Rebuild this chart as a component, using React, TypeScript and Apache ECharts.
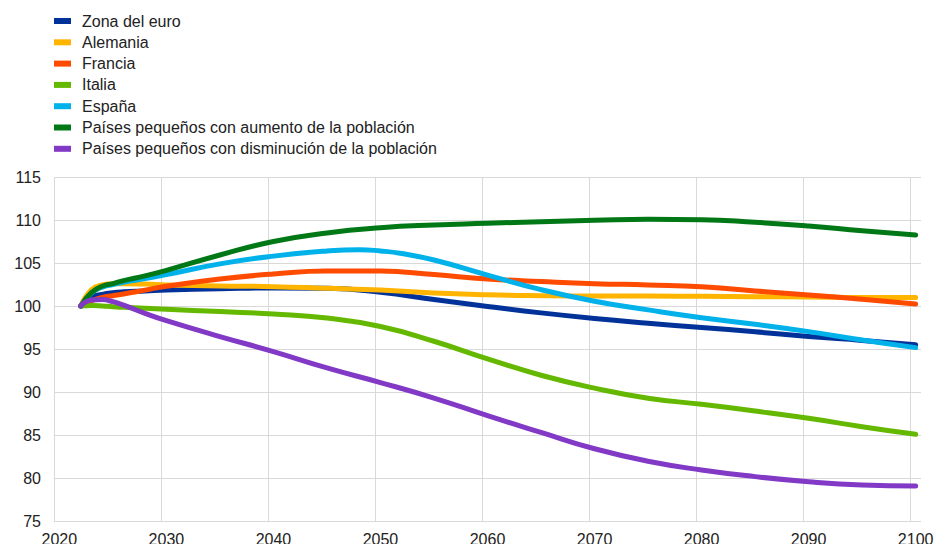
import React, { useEffect, useRef } from "react";
import * as echarts from "echarts";

// Axis domain (category axis: one band per year)
const firstYear = 2020;
const lastYear = 2100;
const yTicks = { min: 75, max: 115, step: 5 };

const sampleYears = [2022, 2023, 2024, 2025, 2026, 2028, 2030, 2035, 2040, 2045, 2050, 2055, 2060, 2065, 2070, 2075, 2080, 2085, 2090, 2095, 2100];
const espanaYears = [2022, 2023, 2024, 2025, 2026, 2028, 2030, 2035, 2040, 2045, 2048, 2050, 2052, 2055, 2060, 2065, 2070, 2075, 2080, 2085, 2090, 2095, 2100];

const zonaEuro = [100, 101.0, 101.35, 101.55, 101.65, 101.75, 101.86, 102.0, 102.1, 102.05, 101.6, 100.75, 99.95, 99.2, 98.55, 98.0, 97.5, 97.0, 96.45, 96.0, 95.5];
const alemania = [100, 101.9, 102.45, 102.6, 102.6, 102.55, 102.45, 102.33, 102.25, 102.05, 101.85, 101.5, 101.3, 101.2, 101.16, 101.16, 101.12, 101.09, 101.05, 101.0, 101.0];
const francia = [100, 100.6, 101.0, 101.2, 101.4, 101.85, 102.3, 103.14, 103.72, 104.07, 104.07, 103.65, 103.15, 102.85, 102.6, 102.45, 102.25, 101.75, 101.28, 100.78, 100.23];
const italia = [100, 100.05, 100.0, 99.92, 99.85, 99.75, 99.62, 99.35, 99.07, 98.6, 97.62, 95.9, 93.85, 91.95, 90.45, 89.28, 88.57, 87.79, 86.94, 85.97, 85.08];
const espana = [100, 101.5, 102.2, 102.5, 102.75, 103.2, 103.65, 104.9, 105.8, 106.4, 106.55, 106.4, 106.1, 105.35, 103.6, 101.9, 100.55, 99.55, 98.64, 97.87, 97.02, 96.05, 95.16];
const pequenosAumento = [100, 101.55, 102.3, 102.6, 102.95, 103.5, 104.15, 105.93, 107.5, 108.5, 109.1, 109.42, 109.61, 109.81, 109.96, 110.08, 110.04, 109.73, 109.3, 108.76, 108.26];
const pequenosDisminucion = [100, 100.7, 100.75, 100.5, 100.1, 99.15, 98.3, 96.45, 94.7, 92.8, 91.1, 89.3, 87.25, 85.3, 83.4, 81.95, 80.93, 80.16, 79.57, 79.19, 79.07];

const seriesDefs = [
  { name: "Zona del euro", years: sampleYears, values: zonaEuro, color: "#003299" },
  { name: "Alemania", years: sampleYears, values: alemania, color: "#FFB400" },
  { name: "Francia", years: sampleYears, values: francia, color: "#FF4B00" },
  { name: "Italia", years: sampleYears, values: italia, color: "#65B800" },
  { name: "España", years: espanaYears, values: espana, color: "#00B1EA" },
  { name: "Países pequeños con aumento de la población", years: sampleYears, values: pequenosAumento, color: "#007816" },
  { name: "Países pequeños con disminución de la población", years: sampleYears, values: pequenosDisminucion, color: "#8139C6" },
];

const FONT = "Arial, 'Liberation Sans', sans-serif";
const TEXT = "#222222";
const GRID = "#d9d9d9";

export default function App() {
  const ref = useRef<HTMLDivElement>(null);

  useEffect(() => {
    if (!ref.current) return;
    const chart = echarts.init(ref.current, null, { renderer: "svg" });

    const categories: string[] = [];
    for (let y = firstYear; y <= lastYear; y++) categories.push(String(y));

    const toFull = (years: number[], values: number[]) => {
      const arr: (number | null)[] = categories.map(() => null);
      years.forEach((yr, i) => {
        arr[yr - firstYear] = values[i];
      });
      return arr;
    };

    chart.setOption({
      animation: false,
      backgroundColor: "#ffffff",
      textStyle: { fontFamily: FONT },
      legend: {
        orient: "vertical",
        left: 54,
        top: 13,
        padding: 0,
        icon: "rect",
        itemWidth: 17,
        itemHeight: 6,
        itemGap: 5.3,
        textStyle: {
          fontFamily: FONT,
          fontSize: 16,
          lineHeight: 16,
          color: TEXT,
          padding: [0, 0, 0, 6],
        },
        data: seriesDefs.map((s) => s.name),
      },
      grid: {
        left: 54,
        right: 13,
        top: 177,
        bottom: 23,
        containLabel: false,
        outerBoundsMode: "none",
      },
      xAxis: {
        type: "category",
        data: categories,
        boundaryGap: true,
        axisLine: { show: false },
        axisTick: { show: false },
        axisLabel: {
          interval: 9,
          margin: 10,
          fontFamily: FONT,
          fontSize: 16,
          color: TEXT,
        },
        splitLine: {
          show: true,
          interval: 9,
          showMaxLine: false,
          lineStyle: { color: GRID, width: 1 },
        },
      },
      yAxis: {
        type: "value",
        min: yTicks.min,
        max: yTicks.max,
        interval: yTicks.step,
        axisLine: { show: false },
        axisTick: { show: false },
        axisLabel: { margin: 13, fontFamily: FONT, fontSize: 16, color: TEXT },
        splitLine: { show: true, lineStyle: { color: GRID, width: 1 } },
      },
      series: seriesDefs.map((s) => ({
        name: s.name,
        type: "line",
        data: toFull(s.years, s.values),
        connectNulls: true,
        smooth: 0.5,
        showSymbol: false,
        symbol: "none",
        color: s.color,
        lineStyle: { color: s.color, width: 5, cap: "round", join: "round" },
        itemStyle: { color: s.color },
      })),
    });

    return () => chart.dispose();
  }, []);

  return <div ref={ref} style={{ width: 934, height: 544, position: "absolute", left: 0, top: 0 }} />;
}
